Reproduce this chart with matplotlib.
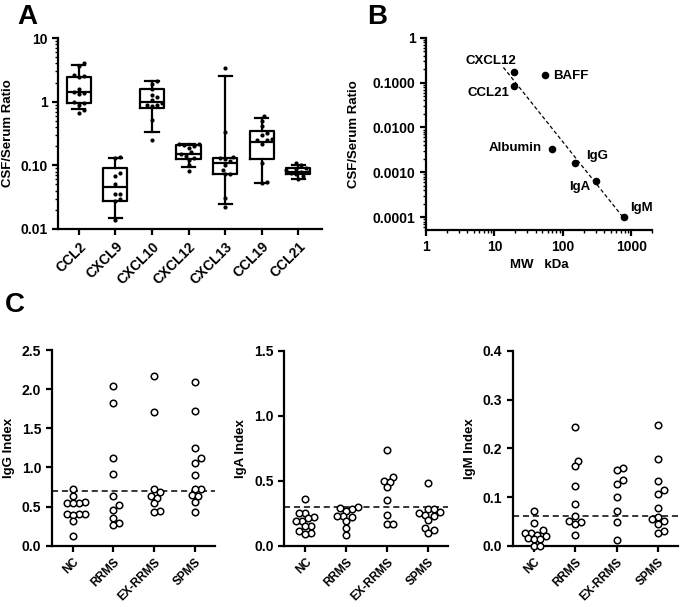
import numpy as np
import matplotlib
matplotlib.use('Agg')
import matplotlib.pyplot as plt
from matplotlib.ticker import LogLocator, NullFormatter

plt.rcParams['font.family'] = ['Liberation Sans', 'DejaVu Sans']
plt.rcParams['font.weight'] = 'bold'
plt.rcParams['axes.labelweight'] = 'bold'
plt.rcParams['axes.linewidth'] = 1.6
plt.rcParams['xtick.major.width'] = 1.6
plt.rcParams['ytick.major.width'] = 1.6
plt.rcParams['xtick.minor.width'] = 1.0
plt.rcParams['ytick.minor.width'] = 1.0
plt.rcParams['xtick.major.size'] = 4
plt.rcParams['ytick.major.size'] = 4
plt.rcParams['xtick.minor.size'] = 2.5
plt.rcParams['ytick.minor.size'] = 2.5

# ---- panel A: CSF/serum ratio of chemokines ----
chemokines = ['CCL2', 'CXCL9', 'CXCL10', 'CXCL12', 'CXCL13', 'CCL19', 'CCL21']
box_q1 = [0.965, 0.028, 0.80, 0.128, 0.074, 0.128, 0.072]
box_med = [1.44, 0.045, 1.0, 0.151, 0.11, 0.236, 0.080]
box_q3 = [2.42, 0.092, 1.57, 0.21, 0.132, 0.35, 0.091]
whisk_lo = [0.76, 0.015, 0.33, 0.095, 0.025, 0.0535, 0.060]
whisk_hi = [3.73, 0.132, 2.11, 0.22, 2.5, 0.56, 0.102]
pts_ccl2 = [4.1, 3.6, 2.6, 2.5, 2.4, 1.6, 1.4, 1.35, 1.3, 1.0, 0.95, 0.9, 0.75, 0.66]
pts_cxcl9 = [0.135, 0.13, 0.075, 0.068, 0.05, 0.036, 0.035, 0.03, 0.028, 0.014]
pts_cxcl10 = [2.1, 1.9, 1.6, 1.25, 1.2, 1.05, 0.95, 0.9, 0.88, 0.85, 0.52, 0.25]
pts_cxcl12 = [0.22, 0.215, 0.21, 0.2, 0.19, 0.16, 0.15, 0.14, 0.13, 0.12, 0.10, 0.082]
pts_cxcl13 = [3.4, 0.33, 0.135, 0.13, 0.125, 0.115, 0.10, 0.085, 0.074, 0.072, 0.031, 0.0224]
pts_ccl19 = [0.59, 0.5, 0.42, 0.32, 0.30, 0.26, 0.25, 0.25, 0.22, 0.11, 0.055, 0.052]
pts_ccl21 = [0.11, 0.1, 0.092, 0.087, 0.083, 0.08, 0.078, 0.076, 0.072, 0.068, 0.061]
pts_a = [pts_ccl2, pts_cxcl9, pts_cxcl10, pts_cxcl12, pts_cxcl13, pts_ccl19, pts_ccl21]
yticks_a = [0.01, 0.1, 1, 10]
ytick_labels_a = ['0.01', '0.10', '1', '10']

# ---- panel B: ratio vs molecular weight ----
molecules = ['CXCL12', 'CCL21', 'BAFF', 'Albumin', 'IgG', 'IgA', 'IgM']
mw_kda = [19, 19, 54, 69, 150, 305, 770]
csf_ratio = [0.17, 0.084, 0.15, 0.0033, 0.0016, 0.00065, 0.000103]
fit_names = ['CXCL12', 'CCL21', 'IgG', 'IgA', 'IgM']
yticks_b = [0.0001, 0.001, 0.01, 0.1, 1]
ytick_labels_b = ['0.0001', '0.0010', '0.0100', '0.1000', '1']
xticks_b = [1, 10, 100, 1000]

# ---- panel C: Ig indices ----
groups = ['NC', 'RRMS', 'EX-RRMS', 'SPMS']
igg_nc = [0.73, 0.64, 0.56, 0.55, 0.55, 0.54, 0.41, 0.41, 0.40, 0.39, 0.31, 0.12]
igg_rrms = [2.04, 1.82, 1.12, 0.92, 0.63, 0.52, 0.46, 0.36, 0.29, 0.26]
igg_exrrms = [2.17, 1.71, 0.73, 0.68, 0.64, 0.61, 0.54, 0.44, 0.43]
igg_spms = [2.09, 1.72, 1.25, 1.12, 1.06, 0.90, 0.73, 0.72, 0.65, 0.63, 0.56, 0.43]
iga_nc = [0.36, 0.25, 0.25, 0.22, 0.21, 0.19, 0.19, 0.155, 0.15, 0.11, 0.10, 0.09]
iga_rrms = [0.295, 0.29, 0.28, 0.27, 0.23, 0.23, 0.22, 0.19, 0.14, 0.08]
iga_exrrms = [0.74, 0.53, 0.50, 0.49, 0.45, 0.35, 0.24, 0.17, 0.17]
iga_spms = [0.48, 0.28, 0.28, 0.26, 0.25, 0.24, 0.23, 0.20, 0.14, 0.12, 0.10]
igm_nc = [0.072, 0.047, 0.032, 0.027, 0.027, 0.023, 0.020, 0.015, 0.013, 0.013, 0.0, 0.0]
igm_rrms = [0.244, 0.175, 0.164, 0.123, 0.085, 0.062, 0.051, 0.049, 0.044, 0.021]
igm_exrrms = [0.160, 0.156, 0.134, 0.127, 0.101, 0.072, 0.048, 0.012]
igm_spms = [0.248, 0.179, 0.133, 0.115, 0.106, 0.078, 0.059, 0.054, 0.051, 0.045, 0.031, 0.027]
igg_cutoff = 0.7
iga_cutoff = 0.3
igm_cutoff = 0.06


def swarm_x(ax, x0, vals, d):
    # spread points sideways in pixel space so markers don't overlap
    vals = np.asarray(vals, dtype=float)
    pts = ax.transData.transform(np.column_stack([np.full(len(vals), x0), vals]))
    xc = pts[0, 0]
    ys = pts[:, 1]
    xs = np.full(len(vals), xc)
    placed = []
    for i in np.argsort(ys):
        for k in range(60):
            cands = [0.0] if k == 0 else [k * d * 0.5, -k * d * 0.5]
            ok = None
            for c in cands:
                if all((c - px) ** 2 + (ys[i] - py) ** 2 >= (d * 0.95) ** 2 for px, py in placed):
                    ok = c
                    break
            if ok is not None:
                xs[i] = xc + ok
                placed.append((ok, ys[i]))
                break
    back = ax.transData.inverted().transform(np.column_stack([xs, ys]))
    return back[:, 0]


fig = plt.figure(figsize=(6.83, 6.07), dpi=100)
W, H = 683.0, 607.0


def add_axes_px(left, top, right, bottom):
    return fig.add_axes([left / W, 1 - bottom / H, (right - left) / W, (bottom - top) / H])


# ================= A =================
axA = add_axes_px(58, 38, 322, 229)
axA.set_yscale('log')
axA.set_ylim(0.01, 10)
axA.set_xlim(-0.57, 6.65)
stats = []
for i in range(len(chemokines)):
    stats.append(dict(med=box_med[i], q1=box_q1[i], q3=box_q3[i],
                      whislo=whisk_lo[i], whishi=whisk_hi[i], fliers=[]))
axA.bxp(stats, positions=range(len(chemokines)), widths=0.66, capwidths=0.36,
        showfliers=False,
        boxprops=dict(color='black', linewidth=1.6),
        medianprops=dict(color='black', linewidth=1.6),
        whiskerprops=dict(color='black', linewidth=1.6),
        capprops=dict(color='black', linewidth=1.6))
for i, vals in enumerate(pts_a):
    xs = swarm_x(axA, i, vals, 5.0)
    axA.scatter(xs, vals, s=9, color='black', zorder=3, linewidths=0)
axA.set_yticks(yticks_a)
axA.set_yticklabels(ytick_labels_a, fontsize=10, fontweight='bold')
axA.yaxis.set_minor_locator(LogLocator(base=10, subs=np.arange(2, 10)))
axA.yaxis.set_minor_formatter(NullFormatter())
axA.set_xticks(range(len(chemokines)))
axA.set_xticklabels(chemokines, rotation=45, ha='right', rotation_mode='anchor',
                    fontsize=10, fontweight='bold')
axA.set_ylabel('CSF/Serum Ratio', fontsize=9.5)
axA.yaxis.set_label_coords(-0.165, 0.5)
axA.spines['top'].set_visible(False)
axA.spines['right'].set_visible(False)
fig.text(17 / W, 1 - 17 / H, 'A', fontsize=20, fontweight='bold', va='center')

# ================= B =================
axB = add_axes_px(426, 37.7, 652, 230)
axB.set_xscale('log')
axB.set_yscale('log')
axB.set_xlim(1, 2000)
axB.set_ylim(5.2e-5, 1)
axB.scatter(mw_kda, csf_ratio, s=30, color='black', zorder=3, linewidths=0)
fit_x = [mw_kda[molecules.index(n)] for n in fit_names]
fit_y = [csf_ratio[molecules.index(n)] for n in fit_names]
slope, icpt = np.polyfit(np.log10(fit_x), np.log10(fit_y), 1)
lx = np.array([13.5, max(fit_x)])
axB.plot(lx, 10 ** (icpt + slope * np.log10(lx)), color='black', lw=0.9,
         ls=(0, (3, 2)), zorder=2)
label_style = {
    'CXCL12': ((2, 8), 'right'),
    'CCL21': ((-3, -5), 'right'),
    'BAFF': ((6, -1), 'left'),
    'Albumin': ((-7, 1), 'right'),
    'IgG': ((8, 5), 'left'),
    'IgA': ((-4, -4.5), 'right'),
    'IgM': ((4.5, 6), 'left'),
}
for name, x, y in zip(molecules, mw_kda, csf_ratio):
    off, ha = label_style[name]
    axB.annotate(name, (x, y), xytext=off, textcoords='offset points',
                 ha=ha, va='center', fontsize=9.5, fontweight='bold')
axB.set_yticks(yticks_b)
axB.set_yticklabels(ytick_labels_b, fontsize=10, fontweight='bold')
axB.set_xticks(xticks_b)
axB.set_xticklabels([str(v) for v in xticks_b], fontsize=10, fontweight='bold')
axB.yaxis.set_minor_locator(LogLocator(base=10, subs=np.arange(2, 10)))
axB.yaxis.set_minor_formatter(NullFormatter())
axB.xaxis.set_minor_locator(LogLocator(base=10, subs=np.arange(2, 10)))
axB.xaxis.set_minor_formatter(NullFormatter())
axB.set_ylabel('CSF/Serum Ratio', fontsize=9.5)
axB.yaxis.set_label_coords(-0.29, 0.5)
axB.set_xlabel('MW   kDa', fontsize=9.5, labelpad=3)
axB.spines['top'].set_visible(False)
axB.spines['right'].set_visible(False)
fig.text(367 / W, 1 - 17 / H, 'B', fontsize=20, fontweight='bold', va='center')

# ================= C =================
panels_c = [
    ((51.7, 350, 215, 545.7), [igg_nc, igg_rrms, igg_exrrms, igg_spms], igg_cutoff,
     2.5, [0, 0.5, 1.0, 1.5, 2.0, 2.5], 'IgG Index'),
    ((284.3, 351, 448, 545.7), [iga_nc, iga_rrms, iga_exrrms, iga_spms], iga_cutoff,
     1.5, [0, 0.5, 1.0, 1.5], 'IgA Index'),
    ((512.7, 351, 678, 545.7), [igm_nc, igm_rrms, igm_exrrms, igm_spms], igm_cutoff,
     0.4, [0, 0.1, 0.2, 0.3, 0.4], 'IgM Index'),
]
for box, series, cutoff, ymax, yt, ylab in panels_c:
    ax = add_axes_px(*box)
    ax.set_xlim(-0.515, 3.49)
    ax.set_ylim(0, ymax)
    for i, vals in enumerate(series):
        xs = swarm_x(ax, i, vals, 6.0)
        ax.scatter(xs, vals, s=22, facecolors='white', edgecolors='black',
                   linewidths=1.1, zorder=3, clip_on=False)
    ax.axhline(cutoff, color='black', lw=1.1, ls=(0, (4, 2.5)), zorder=2)
    ax.set_yticks(yt)
    ax.set_yticklabels(['%.1f' % v for v in yt], fontsize=10, fontweight='bold')
    ax.set_xticks(range(len(groups)))
    ax.set_xticklabels(groups, rotation=45, ha='right', rotation_mode='anchor',
                       fontsize=8.5, fontweight='bold')
    ax.set_ylabel(ylab, fontsize=9.5)
    ax.yaxis.set_label_coords(-0.225, 0.5)
    ax.spines['top'].set_visible(False)
    ax.spines['right'].set_visible(False)
fig.text(5 / W, 1 - 305 / H, 'C', fontsize=20, fontweight='bold', va='center')

plt.savefig('out.png', dpi=100)
